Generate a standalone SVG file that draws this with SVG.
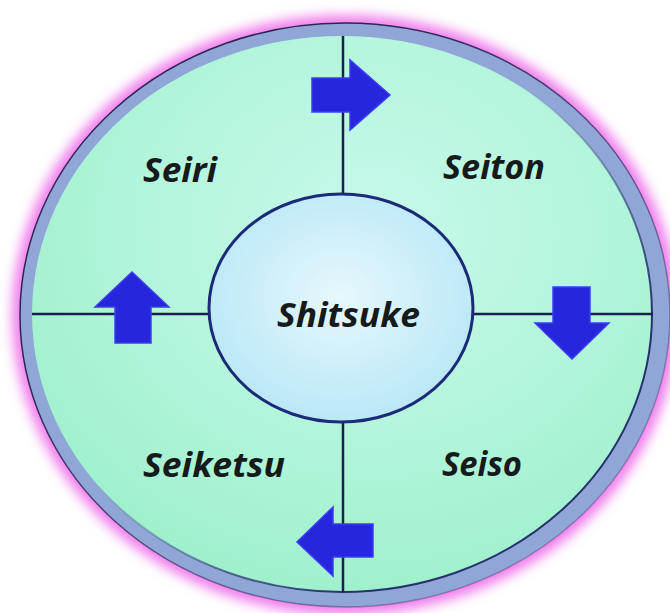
<svg xmlns="http://www.w3.org/2000/svg" width="670" height="613" viewBox="0 0 670 613">
<defs>
<style>
.lbl{font-family:"Open Sans","Noto Sans","DejaVu Sans",sans-serif;font-weight:bold;font-style:italic;font-size:34px;fill:#161a1a;}
.cross{stroke:#1a2050;stroke-width:2.5;fill:none;}
.arr{fill:#2626dc;stroke:#3c3cf2;stroke-width:1.5;stroke-linejoin:miter;}
</style>
<filter id="glow" x="-10%" y="-10%" width="120%" height="120%">
<feGaussianBlur stdDeviation="6"/>
</filter>
<radialGradient id="mint" cx="0.55" cy="0.35" r="0.7">
<stop offset="0" stop-color="#c8f9ec"/>
<stop offset="0.55" stop-color="#b2f5da"/>
<stop offset="1" stop-color="#9cefcb"/>
</radialGradient>
<radialGradient id="core" cx="0.5" cy="0.45" r="0.6">
<stop offset="0" stop-color="#e6f8fc"/>
<stop offset="1" stop-color="#b6e6f6"/>
</radialGradient>
<linearGradient id="innerEdge" x1="0" y1="0" x2="1" y2="1">
<stop offset="0.45" stop-color="#1a2060" stop-opacity="0"/>
<stop offset="0.75" stop-color="#1a2060" stop-opacity="0.9"/>
</linearGradient>
<linearGradient id="outerEdge" x1="0" y1="0" x2="1" y2="1">
<stop offset="0.3" stop-color="#1a1a40" stop-opacity="0.9"/>
<stop offset="0.8" stop-color="#1a1a40" stop-opacity="0.3"/>
</linearGradient>
</defs>
<rect width="670" height="613" fill="#ffffff"/>
<g id="frame">
<ellipse cx="345" cy="315" rx="333" ry="300" fill="#f080ec" filter="url(#glow)"/>
<ellipse cx="345" cy="315" rx="325" ry="292" fill="#8fa6d6" stroke="url(#outerEdge)" stroke-width="1.5"/>
<ellipse cx="342" cy="314" rx="310" ry="278" fill="url(#mint)" stroke="url(#innerEdge)" stroke-width="2"/>
</g>
<g id="connectors">
<line class="cross" x1="343" y1="36" x2="343" y2="194"/>
<line class="cross" x1="343" y1="422" x2="343" y2="592"/>
<line class="cross" x1="32" y1="314" x2="210" y2="314"/>
<line class="cross" x1="472" y1="314" x2="653" y2="314"/>
<polygon id="arrow-top" class="arr" points="312,78 350,78 350,60 390,95 350,130 350,112 312,112"/>
<polygon id="arrow-right" class="arr" points="553,287 590,287 590,323 609,323 572,359 535,323 553,323"/>
<polygon id="arrow-bottom" class="arr" points="373,524 333,524 333,507 297,542 333,576 333,557 373,557"/>
<polygon id="arrow-left" class="arr" points="132,272 169,307 151,307 151,343 115,343 115,307 95,307"/>
</g>
<g id="center">
<ellipse cx="341" cy="308" rx="132" ry="114" fill="url(#core)" stroke="#1b2b78" stroke-width="3"/>
<text class="lbl" x="277" y="327" textLength="143" lengthAdjust="spacingAndGlyphs">Shitsuke</text>
</g>
<g id="seiri"><text class="lbl" x="143" y="182" textLength="74" lengthAdjust="spacingAndGlyphs">Seiri</text></g>
<g id="seiton"><text class="lbl" x="443" y="179" textLength="102" lengthAdjust="spacingAndGlyphs">Seiton</text></g>
<g id="seiso"><text class="lbl" x="442" y="476" textLength="80" lengthAdjust="spacingAndGlyphs">Seiso</text></g>
<g id="seiketsu"><text class="lbl" x="143" y="477" textLength="142" lengthAdjust="spacingAndGlyphs">Seiketsu</text></g>
</svg>
